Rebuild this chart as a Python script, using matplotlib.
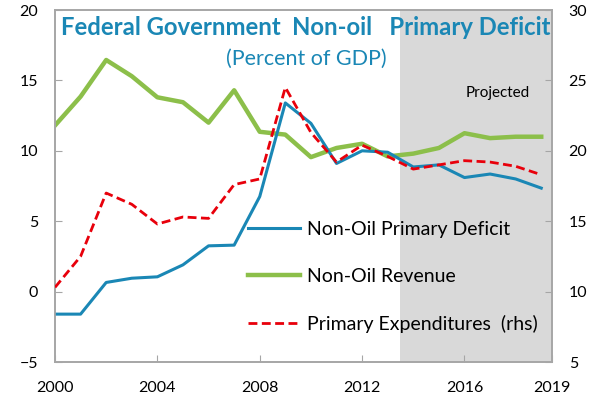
import matplotlib
matplotlib.use("Agg")
import matplotlib.pyplot as plt

plt.rcParams['font.family'] = ['Lato', 'DejaVu Sans']

years = list(range(2000, 2020))
deficit = [-1.6, -1.6, 0.65, 0.95, 1.05, 1.9, 3.25, 3.3, 6.75, 13.4,
           11.95, 9.1, 10.0, 9.9, 8.85, 9.0, 8.1, 8.35, 8.0, 7.35]
revenue = [11.8, 13.85, 16.45, 15.3, 13.8, 13.45, 12.0, 14.3, 11.35, 11.15,
           9.55, 10.2, 10.5, 9.6, 9.8, 10.2, 11.25, 10.9, 11.0, 11.0]
expend_rhs = [10.3, 12.5, 17.0, 16.2, 14.8, 15.3, 15.2, 17.6, 18.0, 24.5,
              21.3, 19.2, 20.4, 19.6, 18.7, 19.0, 19.3, 19.2, 18.9, 18.3]
proj_start = 2013.5
xticks = [2000, 2004, 2008, 2012, 2016]
left_ticks = [-5, 0, 5, 10, 15, 20]
right_ticks = [5, 10, 15, 20, 25, 30]

BLUE = '#1a87b5'
GREEN = '#8cbf4a'
RED = '#e8000b'
GRID = '#a6a6a6'

fig = plt.figure(figsize=(6.05, 4.03), dpi=100)
ax = fig.add_axes([55/605, 1-362/403, (552-55)/605, (362-10)/403])
ax2 = ax.twinx()

xmax = 2019.42
ax.set_xlim(2000, xmax)
ax.set_ylim(-5, 20)
ax2.set_ylim(5, 30)

ax.axvspan(proj_start, xmax, color='#d9d9d9', zorder=0, lw=0)

l1, = ax.plot(years, deficit, color=BLUE, lw=2.2, zorder=3, label='Non-Oil Primary Deficit')
l2, = ax.plot(years, revenue, color=GREEN, lw=3.2, zorder=2, label='Non-Oil Revenue')
l3, = ax2.plot(years, expend_rhs, color=RED, lw=2.0, dashes=(3.2, 1.6), zorder=3,
               label='Primary Expenditures  (rhs)')

ax.set_xticks(xticks + [xmax])
ax.set_xticklabels([str(x) for x in xticks] + ['2019'])
ax.set_yticks(left_ticks)
ax2.set_yticks(right_ticks)

for a in (ax, ax2):
    for s in a.spines.values():
        s.set_color(GRID)
        s.set_linewidth(1.2)
    a.tick_params(direction='in', length=5, color=GRID, labelsize=11.5, colors='black')
ax.tick_params(axis='x', pad=14)
ax.tick_params(axis='y', pad=12)
ax2.tick_params(axis='y', pad=12)

ax.text(0.012, 0.95, 'Federal Government  Non-oil   Primary Deficit', transform=ax.transAxes,
        color=BLUE, fontsize=17.2, fontweight='bold', ha='left', va='center')
ax.text(0.505, 0.86, '(Percent of GDP)', transform=ax.transAxes,
        color=BLUE, fontsize=15.5, ha='center', va='center')
ax.text(0.89, 0.765, 'Projected', transform=ax.transAxes,
        color='black', fontsize=11, ha='center', va='center')

leg = ax.legend(handles=[l1, l2, l3], loc='upper left', bbox_to_anchor=(0.372, 0.4225),
                frameon=False, fontsize=14, handlelength=2.7, handletextpad=0.36,
                labelspacing=1.53, borderaxespad=0)
leg.set_zorder(5)

fig.savefig('out.png', dpi=100)
